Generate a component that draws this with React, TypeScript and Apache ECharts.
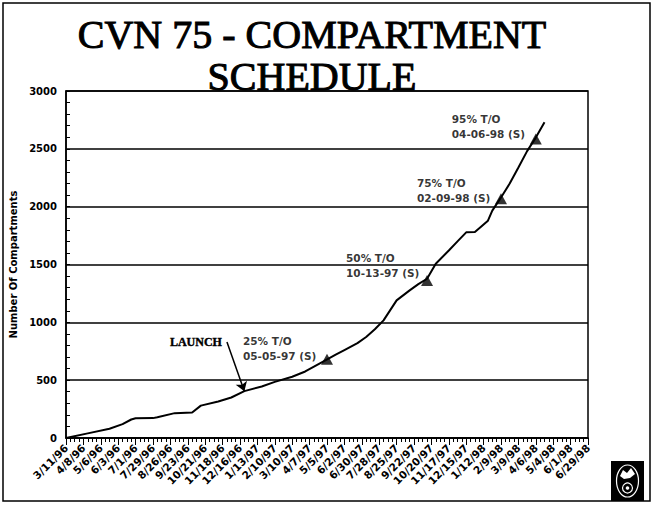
import { useEffect, useRef } from "react";
import * as echarts from "echarts";

// Tick labels (every 4 weeks); axis has weekly ticks
const tickLabels = [
  "3/11/96", "4/8/96", "5/6/96", "6/3/96", "7/1/96", "7/29/96", "8/26/96", "9/23/96",
  "10/21/96", "11/18/96", "12/16/96", "1/13/97", "2/10/97", "3/10/97", "4/7/97", "5/5/97",
  "6/2/97", "6/30/97", "7/28/97", "8/25/97", "9/22/97", "10/20/97", "11/17/97", "12/15/97",
  "1/12/98", "2/9/98", "3/9/98", "4/6/98", "5/4/98", "6/1/98", "6/29/98",
];

// Cumulative compartments (week index from 3/11/96, value)
const weekIndex = [0, 5, 10, 13, 15, 16, 20, 21, 25, 29, 31, 35, 38, 41, 45, 48, 52, 55, 59, 62, 64, 67, 69, 71, 73, 76, 79, 81, 83, 85, 88, 90, 92, 94, 97, 98, 100, 102, 104, 106, 108, 110];
const compartments = [0, 40, 80, 120, 160, 170, 172, 180, 215, 220, 280, 315, 350, 405, 445, 485, 530, 575, 658, 720, 760, 820, 873, 940, 1017, 1190, 1276, 1330, 1377, 1506, 1621, 1700, 1778, 1780, 1879, 1966, 2080, 2200, 2339, 2480, 2597, 2730];

// Milestones
const milestoneWeek = [60, 83, 100, 108];
const milestoneValue = [681, 1362, 2069, 2586];
const milestoneLabels = [
  "25% T/O\n05-05-97 (S)",
  "50% T/O\n10-13-97 (S)",
  "75% T/O\n02-09-98 (S)",
  "95% T/O\n04-06-98 (S)",
];

// Launch arrow (from label anchor to the curve)
const launchLabel = "LAUNCH";
const launchFrom = [37, 830];
const launchTo = [41, 405];

const labelOffsets = [
  [-78, -20],
  [-75, -24],
  [-78, -18],
  [-78, -22],
];

export default function App() {
  const ref = useRef<HTMLDivElement>(null);

  useEffect(() => {
    if (!ref.current) return;
    const chart = echarts.init(ref.current, null, { renderer: "svg" });

    const categories: string[] = [];
    for (let i = 0; i < (tickLabels.length - 1) * 4 + 1; i++) {
      const base = tickLabels[Math.floor(i / 4)];
      categories.push(i % 4 === 0 ? base : `${base} +${i % 4}w`);
    }

    const lineData = weekIndex.map((w, i) => [w, compartments[i]]);
    const msData = milestoneWeek.map((w, i) => ({
      name: milestoneLabels[i],
      value: [w, milestoneValue[i]],
      label: { position: labelOffsets[i] },
    }));

    const option: any = {
      animation: false,
      backgroundColor: "#fff",
      grid: {
        left: 60,
        right: 66,
        top: 91,
        bottom: 74,
        show: true,
        borderColor: "#000",
        borderWidth: 1.5,
        backgroundColor: "transparent",
      },
      xAxis: [
        {
          type: "category",
          data: categories,
          boundaryGap: false,
          position: "bottom",
          axisLine: { show: true, lineStyle: { color: "#000", width: 1.5 } },
          axisTick: { show: true, interval: 0, length: 4, lineStyle: { color: "#000", width: 1 } },
          axisLabel: {
            interval: 3,
            rotate: 45,
            margin: 8,
            color: "#000",
            fontFamily: "DejaVu Sans",
            fontWeight: "bold",
            fontSize: 10.5,
          },
          splitLine: { show: false },
        },
        {
          type: "category",
          data: categories,
          boundaryGap: false,
          position: "bottom",
          axisLine: { show: false },
          axisTick: { show: true, interval: 3, length: 7, lineStyle: { color: "#000", width: 1 } },
          axisLabel: { show: false },
          splitLine: { show: false },
        },
      ],
      yAxis: [
        {
          type: "value",
          min: 0,
          max: 3000,
          interval: 500,
          name: "Number Of Compartments",
          nameLocation: "middle",
          nameRotate: 90,
          nameGap: 48,
          nameTextStyle: {
            color: "#000",
            fontFamily: "DejaVu Sans",
            fontWeight: "bold",
            fontSize: 10,
          },
          axisLine: { show: true, lineStyle: { color: "#000", width: 1.5 } },
          axisTick: { show: false },
          axisLabel: {
            margin: 9,
            color: "#000",
            fontFamily: "DejaVu Sans",
            fontWeight: "bold",
            fontSize: 10,
            formatter: (v: number) => String(v),
          },
          splitLine: { show: true, lineStyle: { color: "#000", width: 1.5 } },
        },
        {
          type: "value",
          min: 0,
          max: 3000,
          interval: 100,
          position: "left",
          axisLine: { show: false },
          axisTick: { show: true, inside: true, length: 4, lineStyle: { color: "#000", width: 1 } },
          axisLabel: { show: false },
          splitLine: { show: false },
        },
      ],
      series: [
        {
          type: "line",
          data: lineData,
          showSymbol: false,
          symbol: "none",
          lineStyle: { color: "#000", width: 2 },
          markLine: {
            silent: true,
            symbol: ["none", "arrow"],
            symbolSize: 9,
            lineStyle: { color: "#000", width: 1.5, type: "solid" },
            label: { show: false },
            data: [[{ coord: launchFrom }, { coord: launchTo }]],
          },
          markPoint: {
            silent: true,
            symbol: "circle",
            symbolSize: 0,
            itemStyle: { color: "transparent" },
            label: {
              show: true,
              position: "left",
              distance: 5,
              formatter: launchLabel,
              color: "#000",
              fontFamily: "Liberation Serif",
              fontWeight: "bold",
              fontSize: 12,
              textBorderColor: "#000",
              textBorderWidth: 0.4,
            },
            data: [{ coord: launchFrom }],
          },
        },
        {
          type: "scatter",
          data: msData,
          symbol: "triangle",
          symbolSize: [12, 11],
          itemStyle: { color: "#000" },
          label: {
            show: true,
            formatter: (p: any) => p.name,
            color: "#000",
            fontFamily: "DejaVu Sans",
            fontWeight: "bold",
            fontSize: 10.5,
            lineHeight: 15,
            align: "left",
            verticalAlign: "top",
          },
        },
      ],
      graphic: [
        {
          type: "rect",
          shape: { x: 3, y: 3, width: 647, height: 498 },
          style: { fill: "none", stroke: "#000", lineWidth: 1.5 },
          silent: true,
        },
        {
          type: "text",
          x: 312,
          y: 13,
          style: {
            text: "CVN 75 - COMPARTMENT\nSCHEDULE",
            fontFamily: "Liberation Serif",
            fontSize: 40,
            lineHeight: 42,
            fill: "#000",
            stroke: "#000",
            lineWidth: 1,
            align: "center",
            verticalAlign: "top",
          },
        },
        {
          type: "group",
          children: [
            { type: "rect", shape: { x: 611, y: 461, width: 33, height: 40 }, style: { fill: "#000" } },
            { type: "ellipse", shape: { cx: 627.5, cy: 481, rx: 11, ry: 16 }, style: { fill: "none", stroke: "#fff", lineWidth: 1.2 } },
            {
              type: "polygon",
              shape: { points: [[620, 476], [623, 470], [627, 473], [631, 468], [635, 474], [630, 478], [624, 479]] },
              style: { fill: "#fff" },
            },
            { type: "circle", shape: { cx: 627.5, cy: 488, r: 5 }, style: { fill: "none", stroke: "#fff", lineWidth: 1.2 } },
            { type: "circle", shape: { cx: 627.5, cy: 488, r: 1.8 }, style: { fill: "#fff" } },
          ],
        },
      ],
    };

    chart.setOption(option);
    return () => chart.dispose();
  }, []);

  return (
    <div
      ref={ref}
      style={{ position: "fixed", left: 0, top: 0, width: 654, height: 512, background: "#fff" }}
    />
  );
}
